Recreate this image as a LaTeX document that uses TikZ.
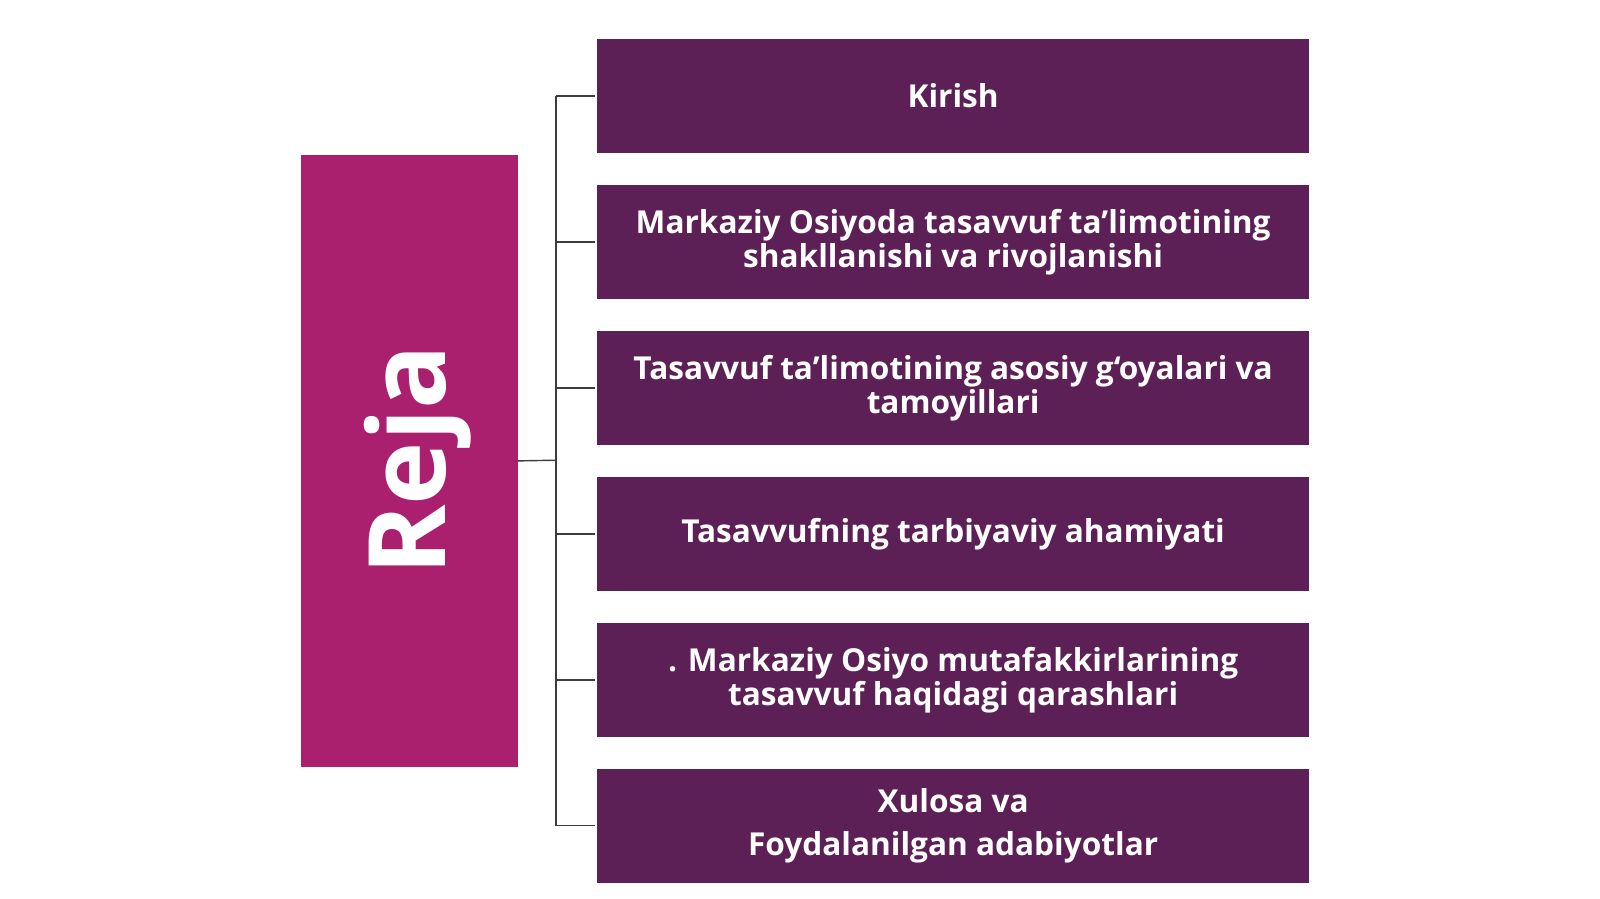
\documentclass[tikz,border=0pt]{standalone}
\usepackage{fontspec}
\setmainfont{Open Sans}
\begin{document}
\begin{tikzpicture}[x=1.020408pt,y=-1.020408pt,
  item/.style={fill=itemcol, minimum width=712pt, minimum height=114.3pt, inner sep=0pt,
    text=white, font=\fontsize{31.6}{34}\selectfont\bfseries, align=center, anchor=north west},
  conn/.style={draw=linecol, line width=1.4pt}]
\definecolor{itemcol}{RGB}{92,32,86}
\definecolor{rejacol}{RGB}{170,31,110}
\definecolor{linecol}{RGB}{60,60,60}
\useasboundingbox (0,0) rectangle (1568,881);
\node[fill=rejacol, minimum width=216.3pt, minimum height=611.2pt, inner sep=0pt, anchor=north west] (reja) at (295,152) {};
\node[rotate=90, text=white, font=\fontsize{107}{107}\selectfont\bfseries] at (409,451) {Reja};
\node[item] (b1) at (585,38) {Kirish};
\node[item] (b2) at (585,181) {Markaziy Osiyoda tasavvuf ta’limotining\\shakllanishi va rivojlanishi};
\node[item] (b3) at (585,324) {Tasavvuf ta’limotining asosiy g‘oyalari va\\tamoyillari};
\node[item] (b4) at (585,467) {Tasavvufning tarbiyaviy ahamiyati};
\node[item] (b5) at (585,610) {. Markaziy Osiyo mutafakkirlarining\\tasavvuf haqidagi qarashlari};
\node[item] (b6) at (585,753) {Xulosa va\\[9pt]Foydalanilgan adabiyotlar};
\coordinate (j) at (545,451);
\draw[conn] (reja.east) -- (j);
\draw[conn] (b1.west -| j) -- (b6.west -| j);
\foreach \b in {b1,b2,b3,b4,b5,b6} \draw[conn] (\b.west -| j) -- ([xshift=-2pt]\b.west);
\end{tikzpicture}
\end{document}
